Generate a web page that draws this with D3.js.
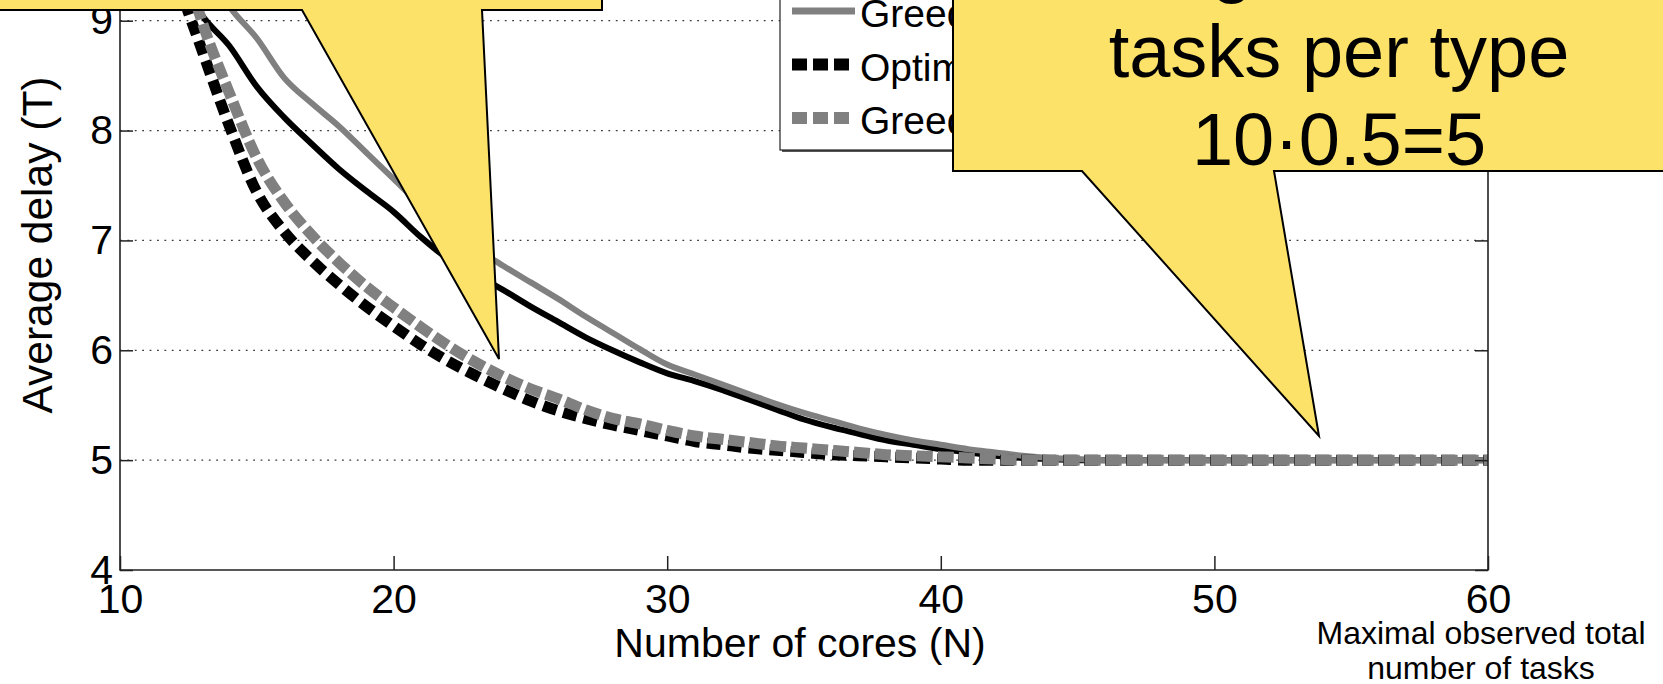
<!DOCTYPE html>
<html>
<head>
<meta charset="utf-8">
<script src="https://cdn.jsdelivr.net/npm/d3@7"></script>
<style>
  html, body { margin: 0; padding: 0; background: #fff; overflow: hidden; }
  svg { display: block; }
</style>
</head>
<body>
<svg id="chart" width="1663" height="684"></svg>
<script>
// ---------------- DATA ----------------
const cores = [10,11,12,13,14,15,16,17,18,19,20,21,22,23,24,25,26,27,28,29,30,31,32,33,34,35,36,37,38,39,40,41,42,43,44,45,46,47,48,49,50,51,52,53,54,55,56,57,58,59,60];

const optimalSolid = [11.2,10.25,9.5,9.05,8.77,8.40,8.12,7.88,7.65,7.45,7.26,7.03,6.83,6.69,6.55,6.40,6.26,6.12,6.00,5.89,5.79,5.72,5.64,5.55,5.46,5.37,5.30,5.24,5.18,5.14,5.10,5.07,5.04,5.02,5.01,5,5,5,5,5,5,5,5,5,5,5,5,5,5,5,5];

const greedySolid = [12.4,11.2,10.2,9.55,9.13,8.84,8.48,8.25,8.04,7.80,7.56,7.32,7.12,6.93,6.77,6.62,6.47,6.31,6.16,6.01,5.87,5.78,5.69,5.60,5.51,5.43,5.36,5.29,5.23,5.18,5.14,5.10,5.07,5.04,5.02,5.01,5,5,5,5,5,5,5,5,5,5,5,5,5,5,5];

const optimalDashed = [11.6,10.4,9.45,8.73,8.04,7.44,7.08,6.82,6.60,6.40,6.22,6.05,5.90,5.77,5.65,5.54,5.45,5.38,5.32,5.27,5.22,5.17,5.14,5.11,5.09,5.07,5.05,5.04,5.03,5.02,5.01,5,5,5,5,5,5,5,5,5,5,5,5,5,5,5,5,5,5,5,5];

const greedyDashed = [12.1,10.9,9.85,8.99,8.34,7.75,7.35,7.05,6.80,6.58,6.39,6.21,6.04,5.89,5.76,5.65,5.56,5.46,5.38,5.33,5.27,5.22,5.19,5.16,5.13,5.11,5.09,5.07,5.05,5.04,5.03,5.02,5.01,5,5,5,5,5,5,5,5,5,5,5,5,5,5,5,5,5,5];

const seriesNames = ["Optimal", "Greedy", "Optimal (average)", "Greedy (average)"];
const xTicks = [10, 20, 30, 40, 50, 60];
const yTicks = [4, 5, 6, 7, 8, 9, 10];
const xLabel = "Number of cores (N)";
const yLabel = "Average delay (T)";
const noteLines = ["Maximal observed total", "number of tasks"];
const calloutLines = ["Average number of", "tasks per type", "10\u00b70.5=5"];

(function () {
// ---------------- SETUP ----------------
const FONT = "'Liberation Sans', Arial, Helvetica, sans-serif";
const svg = d3.select("#chart");

const pL = 120, pR = 1488, pB = 570, pT = -89.16;
const x = d3.scaleLinear().domain([10, 60]).range([pL, pR]);
const y = d3.scaleLinear().domain([4, 10]).range([pB, pT]);

// grid lines
svg.append("g").selectAll("line")
  .data(yTicks.filter(t => t > 4))
  .join("line")
  .attr("x1", pL).attr("x2", pR)
  .attr("y1", d => y(d)).attr("y2", d => y(d))
  .attr("stroke", "#3a3a3a").attr("stroke-width", 1.3)
  .attr("stroke-dasharray", "1.8,5.6");

// series
const series = [
  { name: seriesNames[0], values: optimalSolid, color: "#000000", width: 6, dash: null },
  { name: seriesNames[1], values: greedySolid, color: "#808080", width: 6, dash: null },
  { name: seriesNames[2], values: optimalDashed, color: "#000000", width: 11, dash: [14, 7], phase: 7 },
  { name: seriesNames[3], values: greedyDashed, color: "#808080", width: 11, dash: [16, 5], phase: 18.5 }
];

const line = d3.line()
  .curve(d3.curveMonotoneX)
  .x((d, i) => x(cores[i]))
  .y(d => y(d));

const paths = svg.append("g").selectAll("path")
  .data(series)
  .join("path")
  .attr("d", s => line(s.values))
  .attr("fill", "none")
  .attr("stroke", s => s.color)
  .attr("stroke-width", s => s.width)
  .attr("stroke-linejoin", s => s.dash ? "miter" : "round")
  .attr("stroke-dasharray", s => s.dash ? s.dash.join(",") : null);

// align the two dashed patterns along the flat part of the curves
function lengthAtX(node, tx) {
  let lo = 0, hi = node.getTotalLength();
  for (let k = 0; k < 40; k++) {
    const mid = (lo + hi) / 2;
    if (node.getPointAtLength(mid).x < tx) lo = mid; else hi = mid;
  }
  return (lo + hi) / 2;
}
paths.filter(s => s.dash).each(function (s) {
  const period = s.dash[0] + s.dash[1];
  const L = lengthAtX(this, x(50));
  const off = ((s.phase - L) % period + period) % period;
  d3.select(this).attr("stroke-dashoffset", -off);
});

// axes
const xAxis = d3.axisBottom(x).tickValues(xTicks).tickFormat(d3.format("d"))
  .tickSize(-14).tickSizeOuter(0).tickPadding(14);
const gx = svg.append("g").attr("transform", `translate(0,${pB})`).call(xAxis);
gx.select(".domain").remove();
gx.selectAll(".tick line").attr("stroke", "#222").attr("stroke-width", 1.5);
gx.selectAll(".tick text").attr("font-size", 41).attr("font-family", FONT).attr("fill", "#000");

const yAxis = d3.axisLeft(y).tickValues(yTicks).tickFormat(d3.format("d"))
  .tickSize(-13).tickSizeOuter(0).tickPadding(7);
const gy = svg.append("g").attr("transform", `translate(${pL},0)`).call(yAxis);
gy.select(".domain").remove();
gy.selectAll(".tick line").attr("stroke", "#222").attr("stroke-width", 1.5);
gy.selectAll(".tick text").attr("font-size", 41).attr("font-family", FONT).attr("fill", "#000");

const yAxisR = d3.axisRight(y).tickValues(yTicks).tickFormat("").tickSize(-13).tickSizeOuter(0);
const gyr = svg.append("g").attr("transform", `translate(${pR},0)`).call(yAxisR);
gyr.select(".domain").remove();
gyr.selectAll(".tick line").attr("stroke", "#222").attr("stroke-width", 1.5);

// box
svg.append("path")
  .attr("d", `M${pL},${pT} L${pL},${pB} L${pR},${pB} L${pR},${pT}`)
  .attr("fill", "none").attr("stroke", "#222").attr("stroke-width", 1.6);

// axis labels
svg.append("text")
  .attr("x", 800).attr("y", 657)
  .attr("text-anchor", "middle")
  .attr("font-size", 41).attr("font-family", FONT).attr("fill", "#000")
  .text(xLabel);

svg.append("text")
  .attr("transform", "translate(52,245) rotate(-90)")
  .attr("text-anchor", "middle")
  .attr("font-size", 42.5).attr("font-family", FONT).attr("fill", "#000")
  .text(yLabel);

// note under axis
svg.append("g").selectAll("text")
  .data(noteLines)
  .join("text")
  .attr("x", 1481)
  .attr("y", (d, i) => 644 + i * 35)
  .attr("text-anchor", "middle")
  .attr("font-size", 32).attr("font-family", FONT).attr("fill", "#000")
  .text(d => d);

// legend
const lg = svg.append("g");
const lgLeft = 780, lgBottom = 150, rowGap = 53.5, row3Center = 118;
lg.append("rect")
  .attr("x", lgLeft + 2).attr("y", -140).attr("width", 260).attr("height", lgBottom + 140 + 2)
  .attr("fill", "#555");
lg.append("rect")
  .attr("x", lgLeft).attr("y", -140).attr("width", 260).attr("height", lgBottom + 140)
  .attr("fill", "#fff").attr("stroke", "#222").attr("stroke-width", 1.2);
const rows = lg.selectAll("g.row")
  .data(series)
  .join("g")
  .attr("class", "row")
  .attr("transform", (d, i) => `translate(0,${row3Center - (3 - i) * rowGap})`);
rows.append("line")
  .attr("x1", 792).attr("x2", 855).attr("y1", 0).attr("y2", 0)
  .attr("stroke", d => d.color)
  .attr("stroke-width", d => d.dash ? 12 : 7)
  .attr("stroke-dasharray", d => d.dash ? "15,6" : null);
rows.append("text")
  .attr("x", 860).attr("y", 16)
  .attr("font-size", 39).attr("font-family", FONT).attr("fill", "#000")
  .text(d => d.name);

// callouts
const YELLOW = "#FCE269";
svg.append("path")
  .attr("d", "M-20,-300 L602,-300 L602,10 L482,10 L499,359 L302,10 L-20,10 Z")
  .attr("fill", YELLOW).attr("stroke", "#000").attr("stroke-width", 2).attr("stroke-linejoin", "miter");

svg.append("path")
  .attr("d", "M953,-300 L1720,-300 L1720,171 L1274,171 L1319,436 L1082,171 L953,171 Z")
  .attr("fill", YELLOW).attr("stroke", "#000").attr("stroke-width", 2).attr("stroke-linejoin", "miter");

const ct = svg.append("g").selectAll("text")
  .data(calloutLines)
  .join("text")
  .attr("x", 1339)
  .attr("y", (d, i) => 77 + (i - 1) * 88)
  .attr("text-anchor", "middle")
  .attr("font-size", 74).attr("font-family", FONT).attr("fill", "#000")
  .text(d => d);

// the first (mostly hidden) line: place its "g" where the reference shows the descender
const first = ct.filter((d, i) => i === 0).node();
try {
  const gi = calloutLines[0].indexOf("g");
  if (gi >= 0) {
    const a = first.getStartPositionOfChar(gi).x;
    const b = first.getEndPositionOfChar(gi).x;
    const shift = 1232 - (a + b) / 2;
    d3.select(first).attr("x", 1339 + shift);
  }
} catch (e) {}
})();
</script>
</body>
</html>
